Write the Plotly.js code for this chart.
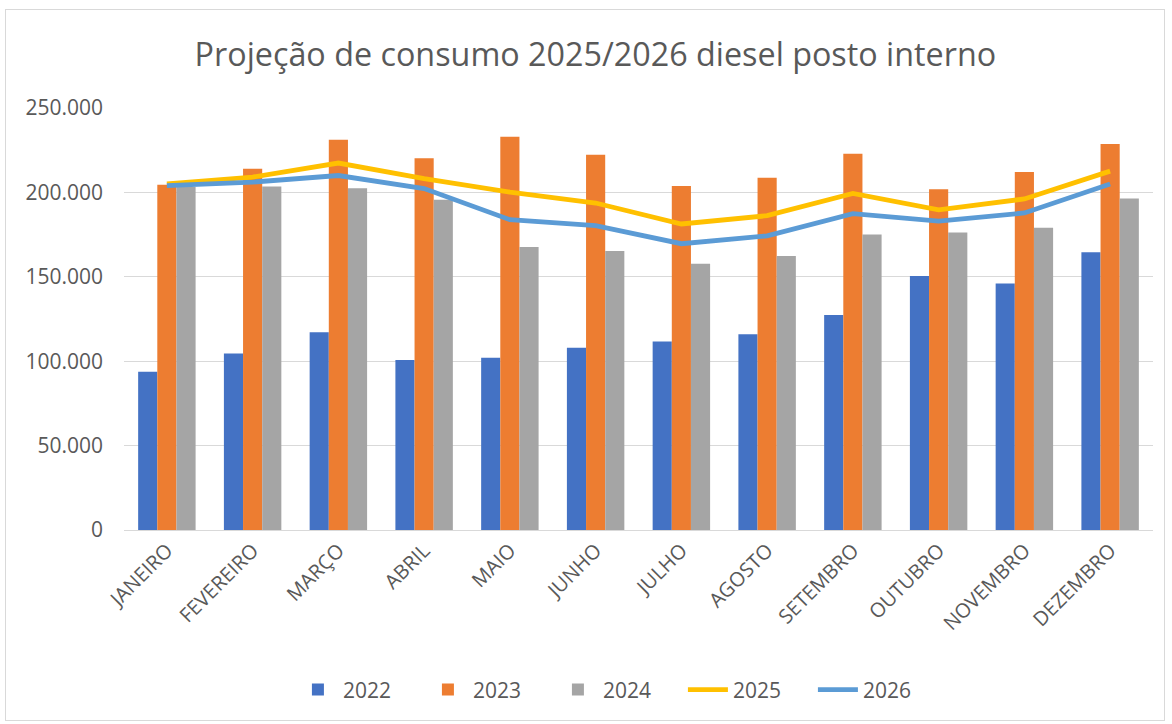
<!DOCTYPE html>
<html>
<head>
<meta charset="utf-8">
<script src="https://cdn.plot.ly/plotly-3.0.1.min.js"></script>
<style>
html,body{margin:0;padding:0;background:#fff;}
#wrap{position:relative;width:1172px;height:724px;}
#chart{width:1172px;height:724px;}
#frame{position:absolute;left:5px;top:9px;width:1160px;height:712px;border:1px solid #d9d9d9;pointer-events:none;box-sizing:border-box;}
</style>
</head>
<body>
<div id="wrap"><div id="chart"></div><div id="frame"></div></div>
<script>
const months = ["JANEIRO","FEVEREIRO","MARÇO","ABRIL","MAIO","JUNHO","JULHO","AGOSTO","SETEMBRO","OUTUBRO","NOVEMBRO","DEZEMBRO"];
const v2022 = [93800,104500,117100,100700,102100,108000,111600,115900,127400,150500,146100,164500];
const v2023 = [204500,214000,231200,220300,233000,222300,203800,208700,222900,201800,212100,228600];
const v2024 = [203200,203500,202400,195700,167600,165300,157800,162300,175100,176300,179100,196400];
const v2025 = [205000,209100,217400,208100,200200,193700,181300,186200,199400,189700,196100,212600];
const v2026 = [204000,206100,210000,202300,183800,180300,169600,174300,187400,183000,187800,205000];
const yTicks = [0,50000,100000,150000,200000,250000];

const font = "Open Sans, Noto Sans, sans-serif";
const traces = [
  {type:'bar', name:'2022', x:months, y:v2022, marker:{color:'#4472C4'}},
  {type:'bar', name:'2023', x:months, y:v2023, marker:{color:'#ED7D31'}},
  {type:'bar', name:'2024', x:months, y:v2024, marker:{color:'#A5A5A5'}},
  {type:'scatter', mode:'lines', name:'2025', x:months, y:v2025, line:{color:'#FFC000', width:4.8}},
  {type:'scatter', mode:'lines', name:'2026', x:months, y:v2026, line:{color:'#5B9BD5', width:4.8}}
];
const layout = {
  width:1172, height:724,
  paper_bgcolor:'#fff', plot_bgcolor:'#fff',
  separators:',.',
  margin:{l:124, r:19, t:108, b:194},
  title:{text:'Projeção de consumo 2025/2026 diesel posto interno', font:{family:font, size:32.3, color:'#595959'}, x:0.508, xanchor:'center', y:0.925, yanchor:'middle'},
  barmode:'group', bargap:0.33, bargroupgap:0,
  xaxis:{tickangle:-45, tickfont:{family:font, size:20, color:'#595959'}, showline:true, linecolor:'#d9d9d9', linewidth:1, showgrid:false, ticks:''},
  yaxis:{range:[0,250000], tickvals:yTicks, tickformat:',d', tickfont:{family:font, size:21, color:'#595959'}, gridcolor:'#d9d9d9', gridwidth:1, showline:false, zeroline:false, ticklabelstandoff:20},
  legend:{orientation:'h', x:0.48, xanchor:'center', y:-0.379, yanchor:'middle', font:{family:font, size:21, color:'#595959'}, itemwidth:40, entrywidth:75, traceorder:'normal'},
  showlegend:true
};
Plotly.newPlot('chart', traces, layout, {displayModeBar:false, staticPlot:true});
</script>
</body>
</html>
